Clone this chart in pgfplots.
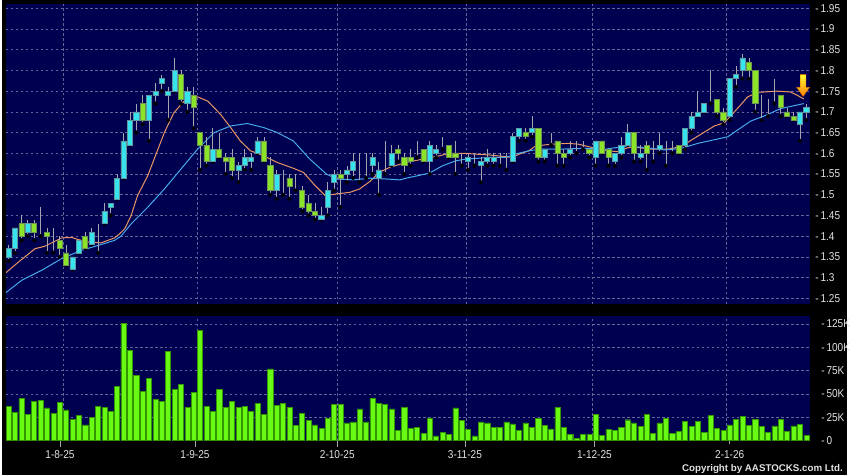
\documentclass[border=0pt]{standalone}
\usepackage{pgfplots}
\pgfplotsset{compat=1.18}
\usepackage{pgfplotstable}
\usepackage{fontspec}
\setmainfont{Liberation Sans}
\newfontfamily\lblfont[FakeStretch=0.88]{Liberation Sans}

\definecolor{bgnavy}{RGB}{0,0,80}
\definecolor{gridc}{RGB}{100,100,155}
\definecolor{upc}{RGB}{55,228,238}
\definecolor{upe}{RGB}{95,150,160}
\definecolor{dnc}{RGB}{140,228,40}
\definecolor{dne}{RGB}{110,150,80}
\definecolor{wick}{RGB}{165,165,175}
\definecolor{volc}{RGB}{105,250,20}
\definecolor{vole}{RGB}{50,150,0}
\definecolor{maA}{RGB}{235,150,100}
\definecolor{maB}{RGB}{70,170,235}
\definecolor{txt}{RGB}{225,225,225}

% i = trading day, o h l c = price, v = volume (thousands)
\pgfplotstableread{
i o h l c v
0 1.35 1.38 1.34 1.37 37
1 1.37 1.42 1.36 1.42 30
2 1.43 1.45 1.39 1.40 45
3 1.41 1.44 1.40 1.43 28
4 1.43 1.44 1.39 1.41 42
5 1.40 1.47 1.40 1.40 43
6 1.41 1.42 1.36 1.40 35
7 1.39 1.42 1.36 1.39 29
8 1.39 1.40 1.35 1.37 41
9 1.36 1.38 1.33 1.33 33
10 1.32 1.35 1.32 1.35 23
11 1.36 1.39 1.36 1.39 27
12 1.40 1.41 1.37 1.37 17
13 1.38 1.42 1.38 1.41 25
14 1.415 1.43 1.36 1.415 37
15 1.43 1.48 1.43 1.46 36
16 1.47 1.48 1.45 1.48 31
17 1.49 1.55 1.49 1.54 58
18 1.54 1.65 1.54 1.63 126
19 1.62 1.70 1.62 1.68 97
20 1.68 1.72 1.65 1.70 70
21 1.72 1.74 1.67 1.68 53
22 1.68 1.74 1.63 1.74 67
23 1.74 1.77 1.72 1.75 44
24 1.77 1.79 1.75 1.78 42
25 1.74 1.76 1.68 1.75 96
26 1.75 1.83 1.75 1.80 55
27 1.79 1.80 1.72 1.73 60
28 1.72 1.76 1.70 1.75 36
29 1.74 1.76 1.66 1.71 52
30 1.65 1.65 1.56 1.62 118
31 1.62 1.64 1.57 1.58 37
32 1.58 1.66 1.58 1.61 31
33 1.61 1.65 1.59 1.59 55
34 1.59 1.60 1.55 1.58 36
35 1.59 1.61 1.54 1.56 42
36 1.56 1.58 1.53 1.57 36
37 1.57 1.61 1.56 1.59 37
38 1.58 1.60 1.56 1.59 31
39 1.60 1.64 1.60 1.63 40
40 1.63 1.64 1.58 1.58 28
41 1.57 1.59 1.50 1.51 77
42 1.51 1.56 1.49 1.55 38
43 1.54 1.56 1.50 1.54 40
44 1.54 1.55 1.49 1.52 36
45 1.54 1.55 1.51 1.54 16
46 1.51 1.52 1.46 1.47 29
47 1.48 1.50 1.45 1.46 22
48 1.46 1.48 1.44 1.45 17
49 1.44 1.47 1.44 1.45 13
50 1.47 1.53 1.45 1.51 24
51 1.53 1.56 1.51 1.55 39
52 1.55 1.56 1.47 1.54 39
53 1.55 1.57 1.53 1.56 19
54 1.56 1.60 1.54 1.58 20
55 1.58 1.60 1.53 1.58 34
56 1.58 1.60 1.54 1.58 20
57 1.57 1.60 1.55 1.59 45
58 1.54 1.58 1.50 1.56 40
59 1.57 1.63 1.55 1.57 39
60 1.57 1.62 1.57 1.60 34
61 1.61 1.62 1.58 1.60 11
62 1.59 1.60 1.55 1.57 36
63 1.59 1.61 1.57 1.58 13
64 1.60 1.63 1.59 1.60 14
65 1.61 1.61 1.58 1.58 8
66 1.58 1.63 1.55 1.62 24
67 1.60 1.62 1.59 1.61 5
68 1.62 1.64 1.61 1.62 8.5
69 1.62 1.62 1.59 1.59 7
70 1.60 1.63 1.55 1.59 35
71 1.59 1.60 1.57 1.59 22
72 1.58 1.60 1.56 1.59 12
73 1.59 1.60 1.57 1.59 5
74 1.57 1.59 1.53 1.58 20
75 1.58 1.61 1.57 1.59 19
76 1.58 1.60 1.57 1.59 14
77 1.59 1.60 1.57 1.59 14
78 1.60 1.60 1.56 1.60 20
79 1.58 1.65 1.58 1.64 18
80 1.64 1.66 1.63 1.66 11
81 1.65 1.66 1.63 1.64 19
82 1.65 1.69 1.64 1.66 14
83 1.66 1.66 1.58 1.59 24
84 1.59 1.61 1.58 1.61 16
85 1.64 1.65 1.62 1.64 12.5
86 1.63 1.63 1.57 1.60 35.6
87 1.60 1.61 1.57 1.59 14
88 1.60 1.63 1.59 1.61 6.4
89 1.62 1.63 1.60 1.62 2.5
90 1.61 1.63 1.61 1.61 6.4
91 1.61 1.61 1.59 1.60 6.4
92 1.59 1.63 1.57 1.63 27.8
93 1.63 1.63 1.60 1.60 5.7
94 1.61 1.61 1.57 1.59 12
95 1.58 1.60 1.57 1.60 10.7
96 1.60 1.64 1.59 1.62 14
97 1.62 1.67 1.62 1.65 22.4
98 1.65 1.65 1.58 1.60 19
99 1.59 1.62 1.58 1.60 15
100 1.62 1.63 1.56 1.60 27.8
101 1.61 1.63 1.58 1.61 7.8
102 1.61 1.65 1.60 1.62 19
103 1.61 1.63 1.57 1.61 24
104 1.61 1.63 1.60 1.61 7.8
105 1.62 1.62 1.60 1.60 10
106 1.62 1.66 1.61 1.66 21
107 1.66 1.70 1.65 1.69 15
108 1.69 1.75 1.69 1.70 21
109 1.70 1.72 1.70 1.72 9
110 1.73 1.80 1.72 1.73 27
111 1.73 1.73 1.69 1.70 13
112 1.70 1.71 1.67 1.68 11
113 1.69 1.78 1.68 1.78 17
114 1.78 1.81 1.76 1.79 23
115 1.80 1.84 1.78 1.83 26
116 1.82 1.83 1.78 1.80 16
117 1.80 1.80 1.70 1.72 23
118 1.73 1.74 1.68 1.73 15
119 1.73 1.73 1.69 1.73 8.5
120 1.73 1.78 1.72 1.73 15.7
121 1.74 1.74 1.69 1.71 23
122 1.70 1.71 1.69 1.69 10
123 1.69 1.70 1.68 1.68 15.7
124 1.67 1.70 1.63 1.70 17.5
125 1.70 1.72 1.68 1.71 5.3
}\prices

\pgfplotsset{
  panel/.style={
    scale only axis, width=809pt,
    xmin=-0.42, xmax=125.6,
    axis line style={draw=none},
    grid style={gridc, dash pattern=on 2.5pt off 2.5pt, line width=0.6pt},
    yticklabel pos=right,
    yticklabel style={anchor=west, inner sep=0pt, xshift=5pt, text=txt,
      font=\lblfont\fontsize{11.5}{13}\selectfont},
  },
}

\begin{document}
\begin{tikzpicture}
\fill[black] (0,0) rectangle (850pt,478pt);

% price panel: grid, moving averages, wicks
\begin{axis}[panel, at={(4pt,172pt)}, anchor=south west, height=302pt,
  axis background/.style={fill=bgnavy},
  ymin=1.2361, ymax=1.9603,
  ytick={1.25,1.3,1.35,1.4,1.45,1.5,1.55,1.6,1.65,1.7,1.75,1.8,1.85,1.9,1.95},
  yticklabels={-\,1.25,-\,1.3,-\,1.35,-\,1.4,-\,1.45,-\,1.5,-\,1.55,-\,1.6,-\,1.65,-\,1.7,-\,1.75,-\,1.8,-\,1.85,-\,1.9,-\,1.95},
  xtick={8.57,29.6,51.5,71.65,91.5,112.5}, xticklabels={},
  grid=major, major tick length=0pt,
]
\addplot[maA, line width=1pt] coordinates {
(-0.42,1.312) (1.56,1.338) (4.14,1.370) (5.7,1.376) (8.3,1.396) (9.9,1.397)
(10.9,1.392) (12.5,1.386) (14.5,1.384) (16.6,1.396) (17.4,1.406) (18.2,1.418)
(19.2,1.450) (20.2,1.498) (21.8,1.546) (24.4,1.650) (25.9,1.698) (27.5,1.726)
(29.3,1.738) (31.2,1.726) (33.2,1.694) (34.8,1.662) (36.3,1.630) (37.9,1.606)
(39.5,1.597) (42.1,1.578) (44.6,1.564) (46.2,1.554) (47.8,1.526) (49.6,1.498)
(51.4,1.502) (53.5,1.506) (55.0,1.514) (56.6,1.532) (58.1,1.554) (59.7,1.566)
(62.3,1.578) (64.9,1.586) (67.5,1.594) (69.0,1.600) (71.6,1.600) (73.2,1.598)
(75.3,1.596) (77.9,1.592) (78.9,1.590) (80.0,1.598) (81.5,1.606) (82.6,1.618)
(85.1,1.622) (87.7,1.624) (89.3,1.622) (91.4,1.614) (93.9,1.606) (95.5,1.604)
(97.1,1.614) (98.6,1.614) (100.7,1.610) (103.3,1.610) (105.4,1.616) (107.0,1.632)
(110.6,1.666) (112.2,1.674) (114.2,1.708) (115.8,1.736) (117.3,1.747) (120.4,1.750)
(122.5,1.748) (123.6,1.740) (124.6,1.731)
};
\addplot[maB, line width=1pt] coordinates {
(-0.42,1.264) (2.07,1.294) (5.2,1.318) (8.3,1.346) (11.4,1.366) (14.5,1.380)
(16.6,1.390) (17.6,1.400) (19.2,1.430) (21.8,1.470) (24.4,1.514) (27.0,1.562)
(29.6,1.610) (32.2,1.650) (34.8,1.666) (37.4,1.672) (40.0,1.662) (42.1,1.650)
(44.6,1.630) (47.2,1.586) (49.8,1.550) (51.4,1.538) (54.0,1.536) (56.6,1.540)
(59.2,1.538) (61.3,1.536) (62.3,1.540) (65.9,1.552) (68.0,1.570) (70.1,1.582)
(71.6,1.586) (75.3,1.590) (77.9,1.590) (79.3,1.598) (81.5,1.606) (83.1,1.610)
(86.2,1.610) (90.3,1.612) (93.5,1.610) (97.1,1.618) (100.7,1.612) (102.8,1.608)
(105.4,1.612) (108.0,1.624) (112.7,1.640) (116.3,1.678) (118.4,1.690) (121.0,1.708)
(124.6,1.720)
};
\addplot[only marks, mark=none,
  error bars/.cd, y dir=plus, y explicit, error mark=none,
  error bar style={wick, line width=0.7pt}]
  table[x=i, y=l, y error plus expr=\thisrow{h}-\thisrow{l}] {\prices};
\end{axis}

% price panel: candle bodies stacked on an invisible base
\begin{axis}[at={(4pt,172pt)}, anchor=south west, scale only axis,
  width=809pt, height=302pt, xmin=-0.42, xmax=125.6,
  ymin=1.2361, ymax=1.9603, hide axis,
  ybar stacked, bar width=0.8,
]
\addplot[draw=none, fill=none]
  table[x=i, y expr={min(\thisrow{o},\thisrow{c})}] {\prices};
\addplot[fill=upc, draw=upe, line width=0.6pt]
  table[x=i, y expr={ifthenelse(\thisrow{c}>\thisrow{o},\thisrow{c}-\thisrow{o},0)}] {\prices};
\addplot[fill=dnc, draw=dne, line width=0.6pt]
  table[x=i, y expr={ifthenelse(\thisrow{o}>\thisrow{c},\thisrow{o}-\thisrow{c},0)}] {\prices};
% arrow above the last day
\fill[top color=yellow!80!white, bottom color=orange, draw=orange!90!black, line width=0.4pt]
  (axis cs:124.05,1.790) -- (axis cs:124.95,1.790) -- (axis cs:124.95,1.759)
  -- (axis cs:125.5,1.759) -- (axis cs:124.5,1.7373) -- (axis cs:123.5,1.759)
  -- (axis cs:124.05,1.759) -- cycle;
\end{axis}

% volume panel
\begin{axis}[panel, at={(4pt,34.7pt)}, anchor=south west, height=125pt,
  axis background/.style={fill=bgnavy},
  ymin=0, ymax=133.2,
  ytick={25,50,75,100,125},
  yticklabels={-\,25K,-\,50K,-\,75K,-\,100K,-\,125K},
  extra y ticks={0}, extra y tick labels={-\,0},
  extra y tick style={ymajorgrids=false},
  ymajorgrids, ytick style={draw=none},
  xtick pos=bottom,
  xtick={8.04,29.2,51.5,71.5,91.8,113.0},
  xticklabels={1-8-25,1-9-25,2-10-25,3-11-25,1-12-25,2-1-26},
  xticklabel style={text=txt, font=\lblfont\fontsize{11.5}{13}\selectfont, anchor=north, inner sep=0pt, yshift=-4pt},
  tick align=outside, major tick length=6pt,
  xtick style={draw=wick, line width=0.7pt, shorten <=3pt},
  extra x ticks={8.57,29.6,51.5,71.65,91.5,112.5}, extra x tick labels={},
  extra x tick style={xmajorgrids=true, major tick length=0pt},
  ybar, bar width=0.8,
]
\addplot[fill=volc, draw=vole, line width=0.5pt] table[x=i, y=v] {\prices};
\end{axis}

\node[anchor=east, text=txt, inner sep=0pt, font=\bfseries\fontsize{9.8}{11}\selectfont]
  at (846pt,6.3pt) {Copyright by AASTOCKS.com Ltd.};
\end{tikzpicture}
\end{document}
